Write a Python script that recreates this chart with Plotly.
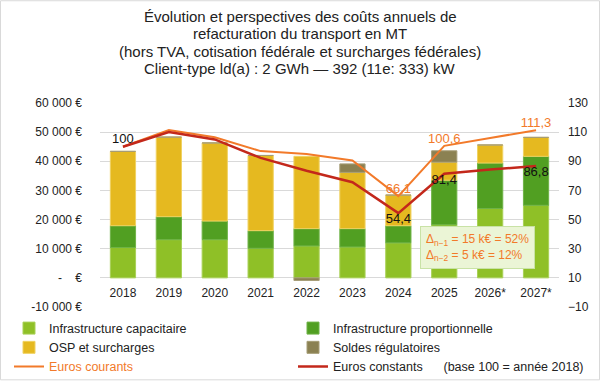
import plotly.graph_objects as go

years = ["2018", "2019", "2020", "2021", "2022", "2023", "2024", "2025", "2026*", "2027*"]
infra_cap = [10400, 13100, 13100, 10150, 10950, 10600, 12000, 18200, 23800, 24900]
infra_prop = [7500, 7900, 6400, 6050, 5950, 6300, 5900, 15300, 15600, 16800]
osp = [25500, 27300, 26800, 25800, 24800, 19300, 10500, 6200, 6200, 6500]
soldes = [0, 0, 0, 0, -900, 2900, 0, 3900, 0, 0]
euros_courants = [100, 111.5, 106.5, 97.0, 95.0, 90.5, 66.1, 100.6, 106.0, 111.3]
euros_constants = [100, 110.0, 105.0, 92.3, 83.5, 75.6, 54.4, 81.4, 84.3, 86.8]
courants_labels = ["", "", "", "", "", "", "66,1", "100,6", "", "111,3"]
constants_labels = ["100", "", "", "", "", "", "54,4", "81,4", "", "86,8"]
left_ticks = [-10000, 0, 10000, 20000, 30000, 40000, 50000, 60000]
left_ticktext = ["-10 000 €", "-\u00a0\u00a0\u00a0\u00a0€", "10 000 €", "20 000 €", "30 000 €",
                 "40 000 €", "50 000 €", "60 000 €"]
right_ticks = [-10, 10, 30, 50, 70, 90, 110, 130]
title_lines = [
    "Évolution et perspectives des coûts annuels de",
    "refacturation du transport en MT",
    "(hors TVA, cotisation fédérale et surcharges fédérales)",
    "Client-type ld(a) : 2 GWh — 392 (11e: 333) kW",
]

FONT = "Liberation Sans"
C_CAP = "#8fc027"
C_PROP = "#519f22"
C_OSP = "#e5b920"
C_SOLDES = "#8b8152"
C_ORANGE = "#f27a2a"
C_RED = "#c3281b"
TXT = "#222222"

fig = go.Figure()
fig.add_trace(go.Bar(x=years, y=infra_cap, name="Infrastructure capacitaire",
                     marker=dict(color=C_CAP, line=dict(color="#a9d158", width=1)),
                     legend="legend"))
fig.add_trace(go.Bar(x=years, y=infra_prop, name="Infrastructure proportionnelle",
                     marker=dict(color=C_PROP, line=dict(color="#6fb347", width=1)),
                     legend="legend2"))
fig.add_trace(go.Bar(x=years, y=osp, name="OSP et surcharges",
                     marker=dict(color=C_OSP, line=dict(color="#f0d262", width=1)),
                     legend="legend"))
fig.add_trace(go.Bar(x=years, y=soldes, name="Soldes régulatoires",
                     marker=dict(color=C_SOLDES, line=dict(color="#a69d77", width=1)),
                     legend="legend2"))

fig.add_trace(go.Scatter(
    x=years, y=euros_courants, yaxis="y2", mode="lines+text", legend="legend",
    name='<span style="color:%s">Euros courants</span>' % C_ORANGE,
    line=dict(color=C_ORANGE, width=2),
    text=courants_labels, textposition="top center",
    textfont=dict(color=C_ORANGE, size=13, family=FONT),
))
fig.add_trace(go.Scatter(
    x=years, y=euros_constants, yaxis="y2", mode="lines+text", legend="legend2",
    name="Euros constants\u00a0\u00a0\u00a0\u00a0\u00a0\u00a0(base 100 = année 2018)",
    line=dict(color=C_RED, width=2.5),
    text=constants_labels,
    textposition=["top center"] + ["bottom center"] * 9,
    textfont=dict(color="#111111", size=13, family=FONT),
))

W, H = 600, 381
ml, mr, mt, mb = 100, 41, 103, 73.5
pw, ph = W - ml - mr, H - mt - mb


def px_x(x):
    return (x - ml) / pw


def px_y(y):
    return (H - mb - y) / ph


leg_common = dict(
    orientation="v", xanchor="left", yanchor="top", traceorder="normal",
    font=dict(size=12.5, family=FONT, color=TXT), bgcolor="rgba(0,0,0,0)",
    itemwidth=30, tracegroupgap=0,
)

fig.update_layout(
    width=W, height=H,
    margin=dict(l=ml, r=mr, t=mt, b=mb, autoexpand=False),
    paper_bgcolor="white", plot_bgcolor="white",
    font=dict(family=FONT, size=12, color=TXT),
    barmode="relative", bargap=0.45,
    xaxis=dict(
        type="category", anchor="free", position=px_y(278.3),
        showgrid=False, showline=False, ticks="", zeroline=False, ticklabelstandoff=6,
        tickfont=dict(size=12, color=TXT),
    ),
    yaxis=dict(
        range=[-10000, 60000], tickvals=left_ticks, ticktext=left_ticktext,
        showgrid=True, gridcolor="#d9d9d9", gridwidth=1,
        zeroline=True, zerolinecolor="#d9d9d9", zerolinewidth=1,
        showline=False, ticks="", ticklabelstandoff=17,
        tickfont=dict(size=12, color=TXT),
    ),
    yaxis2=dict(
        range=[-10, 130], tickvals=right_ticks, overlaying="y", side="right",
        showgrid=False, zeroline=False, showline=False, ticks="", ticklabelstandoff=8,
        tickfont=dict(size=12, color=TXT),
    ),
    legend=dict(x=px_x(9), y=px_y(314), **leg_common),
    legend2=dict(x=px_x(293), y=px_y(314), **leg_common),
    showlegend=True,
)

for i, line in enumerate(title_lines):
    fig.add_annotation(
        xref="paper", yref="paper", x=px_x(300), y=px_y(16 + 17.5 * i),
        xanchor="center", yanchor="middle", text=line, showarrow=False,
        font=dict(size=15, family=FONT, color=TXT),
    )

fig.add_annotation(
    xref="paper", yref="paper",
    x=px_x(477.5), y=px_y(247.5), xanchor="center", yanchor="middle",
    text="Δ<sub>n−1</sub> = 15 k€ = 52%<br>Δ<sub>n−2</sub> = 5 k€ = 12%",
    align="left", showarrow=False,
    font=dict(size=12, color=C_ORANGE, family=FONT),
    bgcolor="#ebf5d6", bordercolor="#c9e2a6", borderwidth=1, borderpad=5,
)

# outer frame
fig.add_shape(
    type="rect", xref="paper", yref="paper",
    x0=px_x(0.5), x1=px_x(W - 0.5), y0=px_y(H - 0.5), y1=px_y(0.5),
    line=dict(color="#d9d9d9", width=1), layer="below",
)

fig.write_html(
    "out.html",
    config={"displayModeBar": False},
    post_script="document.body.style.margin='0';document.body.style.padding='0';",
)
